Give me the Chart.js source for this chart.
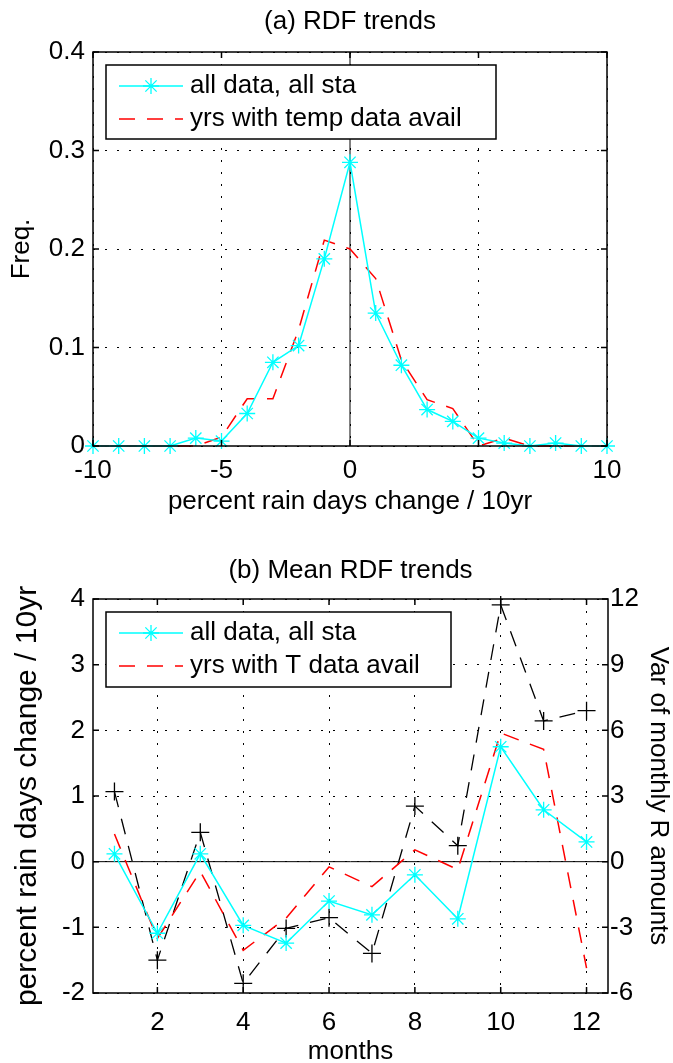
<!DOCTYPE html>
<html>
<head>
<meta charset="utf-8">
<script src="https://cdn.jsdelivr.net/npm/chart.js@4.4.1/dist/chart.umd.min.js"></script>
<style>
  html, body { margin: 0; padding: 0; background: #fff; overflow: hidden; }
  .panel { position: absolute; left: 0; width: 673px; height: 540px; }
  #panel-a { top: 0; }
  #panel-b { top: 540px; }
</style>
</head>
<body>
<div class="panel" id="panel-a"><canvas id="rdf"></canvas></div>
<div class="panel" id="panel-b"><canvas id="mean"></canvas></div>
<script>
// (a) frequency of station RDF trends, one bin per percent / 10yr
const binCenters = [-10, -9, -8, -7, -6, -5, -4, -3, -2, -1, 0, 1, 2, 3, 4, 5, 6, 7, 8, 9, 10];
const freqAll = [0, 0, 0, 0, 0.008, 0.005, 0.033, 0.085, 0.102, 0.19, 0.288,
  0.135, 0.082, 0.037, 0.025, 0.008, 0.003, 0, 0.003, 0, 0];
const freqTemp = [0, 0, 0, 0, 0, 0.009, 0.048, 0.048, 0.118, 0.209, 0.2,
  0.17, 0.087, 0.047, 0.038, 0, 0.008, 0, 0, 0, 0];
const rdfTicksX = [-10, -5, 0, 5, 10];
const rdfTicksY = [0, 0.1, 0.2, 0.3, 0.4];

// (b) monthly means of the trends, plus variance of monthly rain amounts
const months = [1, 2, 3, 4, 5, 6, 7, 8, 9, 10, 11, 12];
const meanAll = [0.12, -1.09, 0.12, -0.97, -1.24, -0.6, -0.81, -0.2, -0.87, 1.75, 0.79, 0.3];
const meanTemp = [0.42, -1.17, -0.15, -1.35, -0.86, -0.08, -0.38, 0.18, -0.12, 1.96, 1.71, -1.62];
const varMonthly = [3.2, -4.5, 1.34, -5.56, -3.05, -2.56, -4.19, 2.54, 0.73, 11.73, 6.43, 6.9];
const monthTicks = [2, 4, 6, 8, 10, 12];
const meanTicks = [-2, -1, 0, 1, 2, 3, 4];
const varTicks = [-6, -3, 0, 3, 6, 9, 12];

const FONT = 'Liberation Sans';
Chart.defaults.font.family = FONT;
Chart.defaults.font.size = 26;
Chart.defaults.color = '#000';

const pairs = (xs, ys) => xs.map((x, i) => ({ x, y: ys[i] }));
const fixTicks = list => scale => { scale.ticks = list.map(v => ({ value: v })); };

// panel title, centred over the plot box rather than the canvas
const plotTitle = {
  id: 'plotTitle',
  afterDraw(chart, args, opts) {
    const { ctx, chartArea } = chart;
    ctx.save();
    ctx.font = '26px "' + FONT + '"';
    ctx.fillStyle = '#000';
    ctx.textAlign = 'center';
    ctx.textBaseline = 'middle';
    ctx.fillText(opts.text, (chartArea.left + chartArea.right) / 2, opts.y);
    ctx.restore();
  }
};

// boxed legend with white fill, drawn over the data
const boxLegend = {
  id: 'boxLegend',
  afterDatasetsDraw(chart, args, opts) {
    const { ctx, chartArea } = chart;
    const x0 = chartArea.left + 13, y0 = chartArea.top + 13;
    ctx.save();
    ctx.fillStyle = '#fff';
    ctx.strokeStyle = '#000';
    ctx.lineWidth = 1.5;
    ctx.fillRect(x0, y0, opts.width, opts.height);
    ctx.strokeRect(x0, y0, opts.width, opts.height);
    ctx.font = '26px "' + FONT + '"';
    ctx.textBaseline = 'middle';
    opts.items.forEach((idx, i) => {
      const ds = chart.data.datasets[idx];
      const y = y0 + 21 + i * 33;
      const xa = x0 + 13, xb = xa + 64;
      ctx.strokeStyle = ds.borderColor;
      ctx.lineWidth = ds.borderWidth;
      ctx.setLineDash(ds.borderDash || []);
      ctx.beginPath();
      ctx.moveTo(xa, y);
      ctx.lineTo(xb, y);
      ctx.stroke();
      ctx.setLineDash([]);
      if (ds.pointRadius > 0) {
        ctx.lineWidth = ds.pointBorderWidth;
        Chart.helpers.drawPoint(ctx, {
          pointStyle: ds.pointStyle, radius: ds.pointRadius,
          borderWidth: ds.pointBorderWidth, rotation: 0
        }, (xa + xb) / 2, y);
      }
      ctx.fillStyle = '#000';
      ctx.fillText(ds.label, xb + 7, y);
    });
    ctx.restore();
  }
};

// full box round the plot with inward tick marks on every side
const boxFrame = {
  id: 'boxFrame',
  afterDraw(chart) {
    const { ctx, chartArea: a, scales } = chart;
    const len = 6;
    ctx.save();
    ctx.strokeStyle = '#000';
    ctx.lineWidth = 1.5;
    ctx.strokeRect(a.left, a.top, a.right - a.left, a.bottom - a.top);
    ctx.beginPath();
    scales.x.ticks.forEach(t => {
      const px = scales.x.getPixelForValue(t.value);
      ctx.moveTo(px, a.bottom); ctx.lineTo(px, a.bottom - len);
      ctx.moveTo(px, a.top); ctx.lineTo(px, a.top + len);
    });
    const left = scales.y, right = scales.y1 || scales.y;
    left.ticks.forEach(t => {
      const py = left.getPixelForValue(t.value);
      ctx.moveTo(a.left, py); ctx.lineTo(a.left + len, py);
    });
    right.ticks.forEach(t => {
      const py = right.getPixelForValue(t.value);
      ctx.moveTo(a.right, py); ctx.lineTo(a.right - len, py);
    });
    ctx.stroke();
    ctx.restore();
  }
};

const dotted = { display: false, dash: [2, 10] };
const grid = { drawTicks: false, color: '#000', lineWidth: 1 };

new Chart(document.getElementById('rdf'), {
  type: 'line',
  data: {
    datasets: [
      {
        label: 'all data, all sta',
        data: pairs(binCenters, freqAll),
        borderColor: '#00ffff', borderWidth: 1.5,
        pointStyle: 'star', pointRadius: 8, pointBorderWidth: 1.3,
        pointBorderColor: '#00ffff', clip: false
      },
      {
        label: 'yrs with temp data avail',
        data: pairs(binCenters, freqTemp),
        borderColor: '#ff0000', borderWidth: 1.5, borderDash: [16, 12],
        pointRadius: 0, clip: false
      },
      {
        data: [{ x: 0, y: 0 }, { x: 0, y: 0.4 }],
        borderColor: '#000', borderWidth: 1, pointRadius: 0
      }
    ]
  },
  options: {
    responsive: true,
    maintainAspectRatio: false,
    animation: false,
    layout: { padding: { top: 52, right: 66 } },
    elements: { line: { tension: 0 } },
    plugins: {
      legend: { display: false },
      tooltip: { enabled: false },
      plotTitle: { text: '(a) RDF trends', y: 22 },
      boxLegend: { items: [0, 1], width: 390, height: 74 }
    },
    scales: {
      x: {
        type: 'linear', min: -10, max: 10,
        afterBuildTicks: fixTicks(rdfTicksX),
        afterFit: s => { s.height = 94; },
        ticks: { padding: 9 },
        grid, border: dotted,
        title: {
          display: true, text: 'percent rain days change / 10yr',
          padding: { bottom: 23 }
        }
      },
      y: {
        min: 0, max: 0.4,
        afterBuildTicks: fixTicks(rdfTicksY),
        afterFit: s => { s.width = 93; },
        ticks: { padding: 8 },
        grid, border: dotted,
        title: { display: true, text: 'Freq.', padding: { top: 6 } }
      }
    }
  },
  plugins: [plotTitle, boxLegend, boxFrame]
});

new Chart(document.getElementById('mean'), {
  type: 'line',
  data: {
    datasets: [
      {
        label: 'all data, all sta',
        data: pairs(months, meanAll),
        borderColor: '#00ffff', borderWidth: 1.5,
        pointStyle: 'star', pointRadius: 8, pointBorderWidth: 1.3,
        pointBorderColor: '#00ffff', clip: false, yAxisID: 'y'
      },
      {
        label: 'yrs with T data avail',
        data: pairs(months, meanTemp),
        borderColor: '#ff0000', borderWidth: 1.5, borderDash: [16, 12],
        pointRadius: 0, clip: false, yAxisID: 'y'
      },
      {
        label: 'Var of monthly R amounts',
        data: pairs(months, varMonthly),
        borderColor: '#000', borderWidth: 1.3, borderDash: [16, 12],
        pointStyle: 'cross', pointRadius: 9, pointBorderWidth: 1.3,
        pointBorderColor: '#000', clip: false, yAxisID: 'y1'
      },
      {
        data: [{ x: 0.5, y: 0 }, { x: 12.5, y: 0 }],
        borderColor: '#000', borderWidth: 1, pointRadius: 0, yAxisID: 'y'
      }
    ]
  },
  options: {
    responsive: true,
    maintainAspectRatio: false,
    animation: false,
    layout: { padding: { top: 59 } },
    elements: { line: { tension: 0 } },
    plugins: {
      legend: { display: false },
      tooltip: { enabled: false },
      plotTitle: { text: '(b) Mean RDF trends', y: 31 },
      boxLegend: { items: [0, 1], width: 345, height: 75 }
    },
    scales: {
      x: {
        type: 'linear', min: 0.5, max: 12.5,
        afterBuildTicks: fixTicks(monthTicks),
        afterFit: s => { s.height = 87; },
        ticks: { padding: 14 },
        grid, border: dotted,
        title: { display: true, text: 'months', padding: { bottom: 13 } }
      },
      y: {
        position: 'left', min: -2, max: 4,
        afterBuildTicks: fixTicks(meanTicks),
        afterFit: s => { s.width = 93; },
        ticks: { padding: 8 },
        grid, border: dotted,
        title: {
          display: true, text: 'percent rain days change / 10yr',
          font: { size: 30 }, padding: { top: 10 }
        }
      },
      y1: {
        position: 'right', min: -6, max: 12,
        afterBuildTicks: fixTicks(varTicks),
        afterFit: s => { s.width = 65; },
        ticks: { padding: 2 },
        grid: { display: false, drawTicks: false },
        border: { display: false },
        title: {
          display: true, text: 'Var of monthly R amounts',
          font: { size: 26, lineHeight: 1.1 }, padding: { top: 1 }
        }
      }
    }
  },
  plugins: [plotTitle, boxLegend, boxFrame]
});
</script>
</body>
</html>
